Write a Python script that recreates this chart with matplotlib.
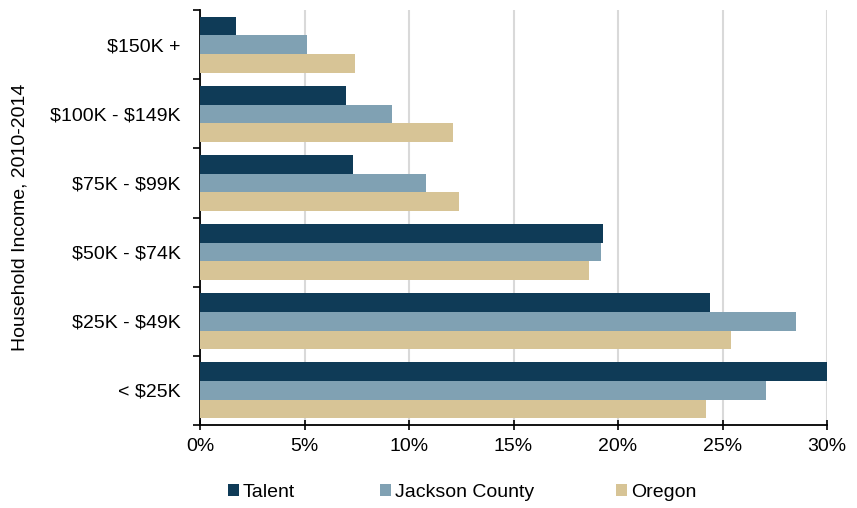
import matplotlib
matplotlib.use("Agg")
import matplotlib.pyplot as plt
import numpy as np
from matplotlib.ticker import FixedLocator, PercentFormatter
from matplotlib.patches import Patch

plt.rcParams['font.family'] = ['Liberation Sans', 'DejaVu Sans']
plt.rcParams['text.parse_math'] = False

categories = ["< $25K", "$25K - $49K", "$50K - $74K", "$75K - $99K", "$100K - $149K", "$150K +"]
talent = [30.0, 24.4, 19.3, 7.3, 7.0, 1.7]
jackson = [27.1, 28.5, 19.2, 10.8, 9.2, 5.1]
oregon = [24.2, 25.4, 18.6, 12.4, 12.1, 7.4]
series_names = ["Talent", "Jackson County", "Oregon"]
colors = ["#0f3b57", "#80a1b3", "#d7c496"]

fig = plt.figure(figsize=(8.57, 5.08), dpi=100)
ax = fig.add_axes([0.2334, 0.1634, 0.7316, 0.8166])

y = np.arange(len(categories))
h = 0.27
for k, (vals, name, c) in enumerate(zip([talent, jackson, oregon], series_names, colors)):
    ax.barh(y + (1 - k) * h, vals, height=h, color=c, label=name, zorder=3)

ax.set_xlim(0, 30)
ax.set_ylim(-0.5, len(categories) - 0.5)
ax.set_xticks(np.arange(0, 31, 5))
ax.xaxis.set_major_formatter(PercentFormatter(decimals=0))
ax.set_yticks(y)
ax.set_yticklabels(categories)
ax.yaxis.set_minor_locator(FixedLocator(np.arange(-0.5, len(categories), 1)))
ax.tick_params(axis='y', which='major', length=0, pad=14, labelsize=14)
ax.tick_params(axis='y', which='minor', length=5, width=1.2, direction='out')
ax.tick_params(axis='x', which='major', length=7, width=1.2, direction='inout', labelsize=14, pad=6)
ax.grid(axis='x', color='#d9d9d9', linewidth=1.5, zorder=0)
for s in ['top', 'right']:
    ax.spines[s].set_visible(False)
for s in ['left', 'bottom']:
    ax.spines[s].set_linewidth(1.3)
ax.set_ylabel("Household Income, 2010-2014", fontsize=14)
ax.yaxis.set_label_coords(-0.274, 0.5)

legend_x = [0.266, 0.4434, 0.7188]
for name, c, lx in zip(series_names, colors, legend_x):
    fig.legend(handles=[Patch(facecolor=c, label=name)], loc='center left',
               bbox_to_anchor=(lx, 0.0305), frameon=False, fontsize=14,
               handlelength=0.57, handleheight=0.57, handletextpad=0.2,
               borderpad=0, borderaxespad=0)

fig.savefig("out.png", dpi=100)
